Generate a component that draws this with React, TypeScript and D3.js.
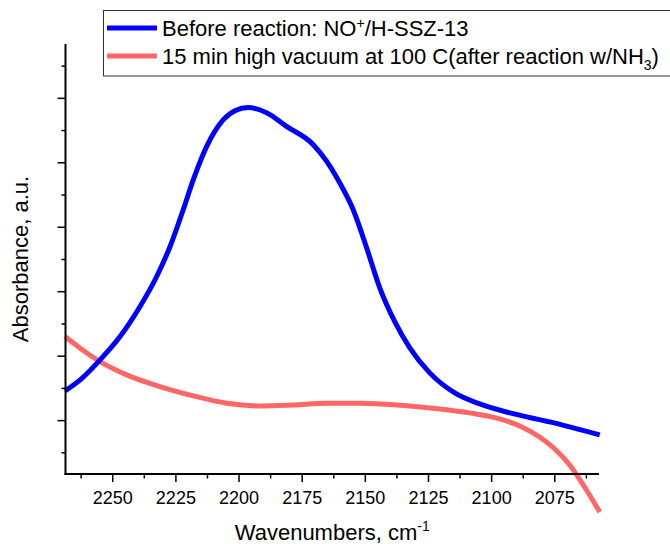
import React from "react";
import * as d3 from "d3";

const W = 670;
const H = 544;

// Blue: Before reaction (wavenumber, absorbance)
const beforeWn = [2268.9, 2262.9, 2255.0, 2247.1, 2239.2, 2232.6, 2227.3, 2222.1, 2218.1, 2212.8, 2206.2, 2201.6, 2196.4, 2189.1, 2181.2, 2170.6, 2165.3, 2160.1, 2154.8, 2149.5, 2144.3, 2138.3, 2132.4, 2124.5, 2114.6, 2104.7, 2092.8, 2077.0, 2057.2];
const beforeAbs = [0.1461, 0.1632, 0.1943, 0.2304, 0.277, 0.3236, 0.3702, 0.4272, 0.4738, 0.5255, 0.5669, 0.5809, 0.5856, 0.5778, 0.5565, 0.5281, 0.5022, 0.4686, 0.4272, 0.3682, 0.3061, 0.2533, 0.2129, 0.1741, 0.143, 0.1259, 0.112, 0.098, 0.0778];

// Pink: 15 min high vacuum at 100 C
const afterWn = [2268.9, 2262.9, 2255.0, 2244.5, 2231.3, 2218.1, 2204.9, 2191.7, 2178.6, 2165.3, 2152.2, 2144.3, 2132.4, 2120.5, 2108.7, 2096.8, 2088.9, 2081.0, 2075.0, 2069.1, 2063.2, 2057.2];
const afterAbs = [0.2304, 0.2124, 0.1916, 0.171, 0.1528, 0.1384, 0.127, 0.1228, 0.1244, 0.127, 0.127, 0.1259, 0.1228, 0.1182, 0.112, 0.1026, 0.0918, 0.0747, 0.056, 0.0312, -0.003, -0.0418];

const xMajor = [2250, 2225, 2200, 2175, 2150, 2125, 2100, 2075];
const xMinor = [2262.5, 2237.5, 2212.5, 2187.5, 2162.5, 2137.5, 2112.5, 2087.5, 2062.5];
const yMajor = [0.1, 0.2, 0.3, 0.4, 0.5, 0.6];
const yMinor = [0.05, 0.15, 0.25, 0.35, 0.45, 0.55, 0.65];

const BLUE = "#0000FF";
const PINK = "#FF6666";
const FONT = "Arial, 'Liberation Sans', sans-serif";

export default function App() {
  const left = 65.5, right = 599, top = 44, bottom = 474;
  const x = d3.scaleLinear().domain([2268.7, 2057.5]).range([left, right]);
  const y = d3.scaleLinear().domain([0.0172, 0.6843]).range([bottom, top]);

  const line = d3
    .line<[number, number]>()
    .x((d) => x(d[0]))
    .y((d) => y(d[1]))
    .curve(d3.curveMonotoneX);

  const blue = line(beforeWn.map((w, i) => [w, beforeAbs[i]]));
  const pink = line(afterWn.map((w, i) => [w, afterAbs[i]]));

  return (
    <svg width={W} height={H} style={{ position: "absolute", left: 0, top: 0 }} fontFamily={FONT}>
      <rect width={W} height={H} fill="#fff" />
      {/* curves */}
      <path d={pink || ""} fill="none" stroke={PINK} strokeWidth={5} />
      <path d={blue || ""} fill="none" stroke={BLUE} strokeWidth={5} />

      {/* axes */}
      <line x1={left} x2={left} y1={top} y2={bottom + 1} stroke="#000" strokeWidth={2} />
      <line x1={left - 1} x2={right} y1={bottom} y2={bottom} stroke="#000" strokeWidth={2} />
      {xMajor.map((t) => (
        <g key={"xm" + t}>
          <line x1={x(t)} x2={x(t)} y1={bottom} y2={bottom + 8} stroke="#000" strokeWidth={1.5} />
          <text x={x(t)} y={504} textAnchor="middle" fontSize={18}>
            {t}
          </text>
        </g>
      ))}
      {xMinor.map((t) => (
        <line key={"xn" + t} x1={x(t)} x2={x(t)} y1={bottom} y2={bottom + 4.5} stroke="#000" strokeWidth={1.5} />
      ))}
      {yMajor.map((t) => (
        <line key={"ym" + t} x1={left - 8} x2={left} y1={y(t)} y2={y(t)} stroke="#000" strokeWidth={1.5} />
      ))}
      {yMinor.map((t) => (
        <line key={"yn" + t} x1={left - 4} x2={left} y1={y(t)} y2={y(t)} stroke="#000" strokeWidth={1.5} />
      ))}

      {/* axis titles */}
      <text x={(left + right) / 2} y={540} textAnchor="middle" fontSize={22}>
        Wavenumbers, cm
        <tspan dy={-9} fontSize={14}>-1</tspan>
      </text>
      <text transform={`translate(28, ${(top + bottom) / 2}) rotate(-90)`} textAnchor="middle" fontSize={22}>
        Absorbance, a.u.
      </text>

      {/* legend */}
      <rect x={103.5} y={10.5} width={600} height={65.5} fill="#fff" stroke="#333" strokeWidth={1} />
      <line x1={107} x2={157} y1={28} y2={28} stroke={BLUE} strokeWidth={5} />
      <line x1={107} x2={157} y1={56} y2={56} stroke={PINK} strokeWidth={5} />
      <text x={162} y={36} fontSize={22}>
        Before reaction: NO
        <tspan dy={-8} fontSize={14}>+</tspan>
        <tspan dy={8}>/H-SSZ-13</tspan>
      </text>
      <text x={162} y={63.5} fontSize={22}>
        15 min high vacuum at 100 C(after reaction w/NH
        <tspan dy={6} fontSize={14}>3</tspan>
        <tspan dy={-6}>)</tspan>
      </text>
    </svg>
  );
}
